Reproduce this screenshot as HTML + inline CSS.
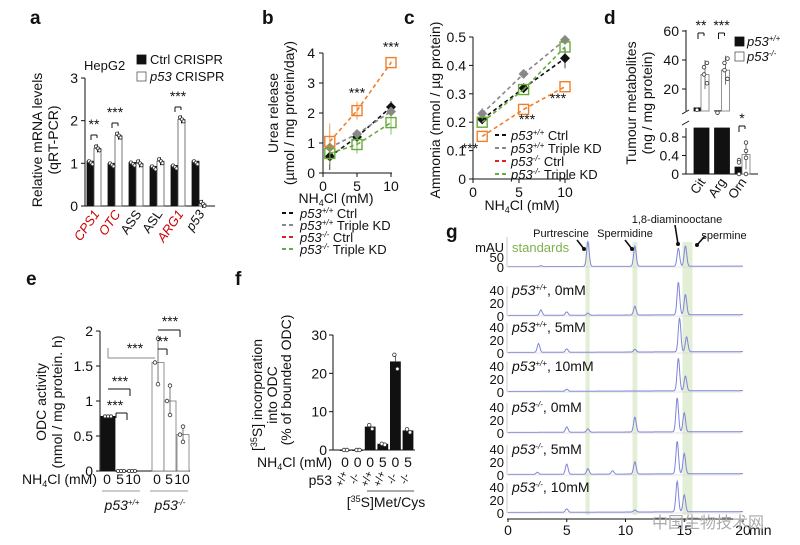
<!DOCTYPE html>
<html><head><meta charset="utf-8">
<style>
html,body{margin:0;padding:0;background:#fff;}
svg{display:block;font-family:"Liberation Sans","Noto Sans CJK SC",sans-serif;}
</style></head>
<body>
<svg id="fig" width="800" height="545" viewBox="0 0 800 545" xmlns="http://www.w3.org/2000/svg"></svg>
<script>
// ---------- data ----------
const aGenes=["CPS1","OTC","ASS","ASL","ARG1","p53"];
const aCtrl=[1.05,1.0,1.02,0.93,0.95,1.05];
const aKO=[1.35,1.65,1.0,1.05,2.03,0.05];
const aTicks=[0,1,2,3];
const bX=[1,5,10];
const bCtrlWT=[0.55,1.2,2.2];
const bKDWT=[0.85,1.3,2.05];
const bCtrlKO=[1.05,2.08,3.68];
const bKDKO=[0.65,0.95,1.68];
const bErr=[0.45,0.25,0.2];
const bTicks=[0,1,2,3,4];
const cX=[1,5.5,10];
const cCtrlWT=[0.21,0.32,0.425];
const cKDWT=[0.23,0.37,0.49];
const cCtrlKO=[0.15,0.245,0.325];
const cKDKO=[0.2,0.315,0.465];
const cTicks=[0,0.1,0.2,0.3,0.4,0.5];
const dCats=["Cit","Arg","Orn"];
const dWT=[7,5,0.15];
const dKO=[30,33,0.42];
const eWT=[0.78,0,0];
const eKO=[1.55,1.0,0.52];
const eTicks=[0,0.5,1,1.5,2];
const eTickLabels=["0","0.5","1","1.5","2"];
const fVals=[0,0,6,1.5,23,5];
const fNH4=["0","0","0","5","0","5"];
const fP53=["+/+","-/-","+/+","+/+","-/-","-/-"];
const fTicks=[0,10,20,30];
const gRows=["standards","p53+/+, 0mM","p53+/+, 5mM","p53+/+, 10mM","p53-/-, 0mM","p53-/-, 5mM","p53-/-, 10mM"];
const gPeakT=[[2.8,6.8,10.8,14.5,15.1],[2.8,5,6.8,10.8,14.5,15.1],[2.6,5,10.8,14.6,15.2],[5,14.5,15.1],[5,6.8,10.8,14.4,15],[2.5,5,6.8,8.9,10.8,14.4,15],[5,10.8,14.4,15]];
const gPeakH=[[2,55,45,40,45],[8,5,3,13,48,30],[13,5,4,50,22],[3,48,22],[8,5,22,50,28],[3,15,8,5,18,48,30],[5,3,45,25]];
const gXTicks=[0,5,10,15,20];

// ---------- helpers ----------
const svg=document.getElementById('fig');
const NS="http://www.w3.org/2000/svg";
function mk(tag,attrs,name){
  const el=document.createElementNS(NS,tag);
  for(const k in attrs) el.setAttribute(k,attrs[k]);
  
  
  svg.appendChild(el);return el;
}
function L(x1,y1,x2,y2,name,s,w,d){return mk('line',{x1,y1,x2,y2,stroke:s||'#111','stroke-width':w||1,'stroke-dasharray':d||'none'},name);}
function R(x,y,w,h,name,fill,s){return mk('rect',{x,y,width:w,height:h,fill:fill||'#111',stroke:s||'#111','stroke-width':0.8},name);}
function C(cx,cy,r,name,s){return mk('circle',{cx,cy,r,fill:'#fff',stroke:s||'#333','stroke-width':0.8},name);}
function T(x,y,html,name,o){o=o||{};const el=mk('text',{x,y,'font-size':o.fs||13,'text-anchor':o.a||'start',fill:o.fill||'#111','font-weight':o.fw||'normal','font-style':o.fst||'normal',transform:o.tr||''},name);el.innerHTML=html;return el;}
const sup=s=>`<tspan dy="-5" font-size="8">${s}</tspan><tspan dy="5"> </tspan>`;
const p53s=s=>`<tspan font-style="italic">p53${sup(s)}</tspan>`;

// ---------- panel letters ----------
[["a",30,24],["b",262,24],["c",404,24],["d",604,24],["e",26,285],["f",235,285],["g",446,238]].forEach(p=>T(p[1],p[2],p[0],'panel-label-'+p[0],{fs:19,fw:'bold'}));

// ---------- panel a ----------
const ya=v=>206-v*128/3;
L(85,78,85,206,'a-y-axis');L(85,206,215,206,'a-x-axis');
aTicks.forEach(t=>{L(81,ya(t),85,ya(t),'a-y-tick');T(78,ya(t)+5,t,'a-y-tick-label',{a:'end',fs:14});});
T(42,140,'Relative mRNA levels','a-y-title',{a:'middle',fs:14,tr:'rotate(-90 42 140)'});
T(58,140,'(qRT-PCR)','a-y-title-2',{a:'middle',fs:14,tr:'rotate(-90 58 140)'});
T(84,70,'HepG2','a-cell-line',{fs:13});
R(137,55,9,9,'a-legend-ctrl-swatch');T(150,64,'Ctrl CRISPR','a-legend-ctrl',{fs:13});
R(137,72,9,9,'a-legend-ko-swatch','#fff','#555');T(150,81,'<tspan font-style="italic">p53</tspan> CRISPR','a-legend-ko',{fs:13});
aGenes.forEach((g,i)=>{
  const cx=94+21*i;
  R(cx-7,ya(aCtrl[i]),7,206-ya(aCtrl[i]),'a-bar-ctrl-'+g);
  R(cx,ya(aKO[i]),7,206-ya(aKO[i]),'a-bar-ko-'+g,'#fff','#555');
  L(cx+3.5,ya(aKO[i])-4,cx+3.5,ya(aKO[i])+4,'a-err');
  [-5,-3,-1.5].forEach((d,k)=>C(cx+d,ya(aCtrl[i])+k*1.5,1.6,'a-dot'));
  [2,4,5.5].forEach((d,k)=>C(cx+d,ya(aKO[i])-2+k*2,1.6,'a-dot'));
  const red=(g==="CPS1"||g==="OTC"||g==="ARG1");
  T(cx+6,214,g,'a-x-label-'+g,{a:'end',fs:13,fill:red?'#c00':'#111',fst:(red||g==='p53')?'italic':'normal',tr:`rotate(-55 ${cx+6} 214)`});
});
[[0,'**',129],[1,'***',117],[4,'***',101]].forEach(s=>{const cx=94+21*s[0];
  L(cx-3,s[2]+6,cx+3,s[2]+6,'a-sig-bracket');L(cx-3,s[2]+6,cx-3,s[2]+11,'a-sig-bracket');L(cx+3,s[2]+6,cx+3,s[2]+9,'a-sig-bracket');
  T(cx,s[2],s[1],'a-sig-star',{a:'middle',fs:14});});

// ---------- panel b ----------
const xb=v=>323+v*6.8, yb=v=>173-v*30;
L(323,53,323,173,'b-y-axis');L(323,173,392,173,'b-x-axis');
bTicks.forEach(t=>{L(319,yb(t),323,yb(t),'b-y-tick');T(315,yb(t)+5,t,'b-y-tick-label',{a:'end',fs:14});});
[0,5,10].forEach(t=>{L(xb(t),173,xb(t),177,'b-x-tick');T(xb(t),191,t,'b-x-tick-label',{a:'middle',fs:14});});
T(336,203,'NH<tspan dy="3" font-size="9">4</tspan><tspan dy="-3">Cl (mM)</tspan>','b-x-title',{a:'middle',fs:14});
T(278,113,'Urea release','b-y-title',{a:'middle',fs:14,tr:'rotate(-90 278 113)'});
T(294,113,'(µmol / mg protein/day)','b-y-title-2',{a:'middle',fs:14,tr:'rotate(-90 294 113)'});
function series(xs,ys,xf,yf,col,mark,name,err){
  for(let i=0;i<xs.length-1;i++) L(xf(xs[i]),yf(ys[i]),xf(xs[i+1]),yf(ys[i+1]),name+'-line',col,1.6,'4,3');
  xs.forEach((x,i)=>{const X=xf(x),Y=yf(ys[i]);
    if(err){L(X,Y-err[i]*(yf(0)-yf(1)),X,Y+err[i]*(yf(0)-yf(1)),name+'-err',col,0.8);}
    if(mark==='d') mk('polygon',{points:`${X},${Y-5} ${X+5},${Y} ${X},${Y+5} ${X-5},${Y}`,fill:col},name+'-marker');
    else mk('rect',{x:X-5,y:Y-5,width:10,height:10,fill:'none',stroke:col,'stroke-width':1.4},name+'-marker');});
}
series(bX,bCtrlWT,xb,yb,'#111','d','b-ctrl-wt',bErr);
series(bX,bKDWT,xb,yb,'#888','d','b-kd-wt',[0.1,0.1,0.1]);
series(bX,bCtrlKO,xb,yb,'#f07f2a','s','b-ctrl-ko',[0.6,0.3,0.05]);
series(bX,bKDKO,xb,yb,'#6aaa3c','s','b-kd-ko',[0.35,0.3,0.4]);
T(xb(5),yb(2.08)-13,'***','b-sig-5',{a:'middle',fs:14});T(xb(10),yb(3.68)-11,'***','b-sig-10',{a:'middle',fs:14});
const legB=[['#111','+/+','Ctrl'],['#888','+/+','Triple KD'],['#d22','-/-','Ctrl'],['#6aaa3c','-/-','Triple KD']];
legB.forEach((l,i)=>{const y=213+i*12;L(282,y,296,y,'b-legend-line',l[0],2,'4,3');T(300,y+5,p53s(l[1])+l[2],'b-legend-entry',{fs:13});});

// ---------- panel c ----------
const xc=v=>473+v*9.2, yc=v=>179-v*284;
L(473,37,473,179,'c-y-axis');L(473,179,570,179,'c-x-axis');
cTicks.forEach(t=>{L(469,yc(t),473,yc(t),'c-y-tick');T(466,yc(t)+5,t,'c-y-tick-label',{a:'end',fs:14});});
[0,5,10].forEach(t=>{L(xc(t),179,xc(t),183,'c-x-tick');T(xc(t),197,t,'c-x-tick-label',{a:'middle',fs:14});});
T(522,210,'NH<tspan dy="3" font-size="9">4</tspan><tspan dy="-3">Cl (mM)</tspan>','c-x-title',{a:'middle',fs:14});
T(440,110,'Ammonia (nmol / µg protein)','c-y-title',{a:'middle',fs:14,tr:'rotate(-90 440 110)'});
series(cX,cCtrlWT,xc,yc,'#111','d','c-ctrl-wt',[0.01,0.01,0.035]);
series(cX,cKDWT,xc,yc,'#888','d','c-kd-wt',[0.02,0.01,0.01]);
series(cX,cCtrlKO,xc,yc,'#f07f2a','s','c-ctrl-ko',null);
series(cX,cKDKO,xc,yc,'#6aaa3c','s','c-kd-ko',null);
T(470,153,'***','c-sig-1',{a:'middle',fs:14});T(527,124,'***','c-sig-5',{a:'middle',fs:14});T(558,103,'***','c-sig-10',{a:'middle',fs:14});
const legC=[['#111','+/+','Ctrl'],['#888','+/+','Triple KD'],['#d22','-/-','Ctrl'],['#6aaa3c','-/-','Triple KD']];
legC.forEach((l,i)=>{const y=135+i*13;L(495,y,508,y,'c-legend-line',l[0],2,'4,3');T(511,y+5,p53s(l[1])+l[2],'c-legend-entry',{fs:13});});

// ---------- panel d ----------
const ydU=v=>89-(v-20)*1.45, ydL=v=>174-v*46.25;
const yd=v=>v>=1?Math.max(ydU(Math.max(v,4.8)),30):ydL(v);
L(686,30,686,111,'d-y-axis-upper');L(686,128,686,174,'d-y-axis-lower');L(686,174,758,174,'d-x-axis');
L(682,114,689,110,'d-break');L(682,125,689,121,'d-break');
[20,40,60].forEach(t=>{L(682,ydU(t),686,ydU(t),'d-y-tick');T(679,ydU(t)+5,t,'d-y-tick-label',{a:'end',fs:14});});
[0,0.4,0.8].forEach(t=>{L(682,ydL(t),686,ydL(t),'d-y-tick');T(679,ydL(t)+5,t,'d-y-tick-label',{a:'end',fs:14});});
T(636,103,'Tumour metabolites','d-y-title',{a:'middle',fs:14,tr:'rotate(-90 636 103)'});
T(652,103,'(ng / mg protein)','d-y-title-2',{a:'middle',fs:14,tr:'rotate(-90 652 103)'});
dCats.forEach((c,i)=>{const x0=694+i*20.5;
  if(dWT[i]>=1){R(x0,128,7,46,'d-bar-wt-lower-'+c);R(x0,yd(dWT[i]),7,111-yd(dWT[i]),'d-bar-wt-upper-'+c);
    R(x0+7,128,8,46,'d-bar-ko-lower-'+c,'#111');R(x0+7,yd(dKO[i]),8,111-yd(dKO[i]),'d-bar-ko-upper-'+c,'#fff','#777');
    L(x0+11,yd(dKO[i]-10),x0+11,yd(dKO[i]+10),'d-err','#555',0.8);
    [0,-6,5,8].forEach((d,k)=>C(x0+10+k%2*3,yd(dKO[i]+d),1.8,'d-dot'));C(x0+3,yd(dWT[i])+2,1.8,'d-dot');}
  else{R(x0,ydL(dWT[i]),7,174-ydL(dWT[i]),'d-bar-wt-'+c);R(x0+7,ydL(dKO[i]),8,174-ydL(dKO[i]),'d-bar-ko-'+c,'#fff','#777');
    L(x0+11,ydL(0.7),x0+11,ydL(0.1),'d-err','#555',0.8);[0.68,0.5,0.35,0].forEach(v=>C(x0+11,ydL(v),1.8,'d-dot'));[0.3,0.25,0].forEach(v=>C(x0+4,ydL(v),1.8,'d-dot'));}
  T(x0+12,182,c,'d-x-label-'+c,{a:'end',fs:13,tr:`rotate(-55 ${x0+12} 182)`});});
[[0,'**',30],[1,'***',30],[2,'*',123]].forEach(s=>{const x=694+s[0]*20.5+7;L(x-3,s[2]+3,x+3,s[2]+3,'d-sig-bracket');L(x-3,s[2]+3,x-3,s[2]+9,'d-sig-bracket');L(x+3,s[2]+3,x+3,s[2]+6,'d-sig-bracket');T(x,s[2],s[1],'d-sig-star',{a:'middle',fs:14});});
R(735,37,9,9,'d-legend-wt-swatch');T(747,46,p53s('+/+'),'d-legend-wt',{fs:13});
R(735,52,9,9,'d-legend-ko-swatch','#fff','#555');T(747,61,p53s('-/-'),'d-legend-ko',{fs:13});

// ---------- panel e ----------
const ye=v=>471-v*70;
L(100,331,100,471,'e-y-axis');L(100,471,190,471,'e-x-axis');
eTicks.forEach((t,i)=>{L(96,ye(t),100,ye(t),'e-y-tick');T(93,ye(t)+5,eTickLabels[i],'e-y-tick-label',{a:'end',fs:14});});
T(46,402,'ODC activity','e-y-title',{a:'middle',fs:14,tr:'rotate(-90 46 402)'});
T(62,402,'(nmol / mg protein. h)','e-y-title-2',{a:'middle',fs:14,tr:'rotate(-90 62 402)'});
const eWx=[101,116,127], eKx=[152,164,177];
eWT.forEach((v,i)=>{R(eWx[i],ye(v),i?10:14,Math.max(471-ye(v),0.5),'e-bar-wt-'+i);[2,5,8].forEach(d=>C(eWx[i]+d+(i?0:2),ye(v),1.6,'e-dot'));});
eKO.forEach((v,i)=>{R(eKx[i],ye(v),12,471-ye(v),'e-bar-ko-'+i,'#fff','#777');L(eKx[i]+6,ye(v*1.25),eKx[i]+6,ye(v*0.78),'e-err','#555',0.8);C(eKx[i]+6,ye(v*1.22),1.8,'e-dot');C(eKx[i]+6,ye(v*0.8),1.8,'e-dot');C(eKx[i]+3,ye(v),1.8,'e-dot');});
T(97,484,'NH<tspan dy="3" font-size="9">4</tspan><tspan dy="-3">Cl (mM)</tspan>','e-x-title',{a:'end',fs:14});
["0","5","10"].forEach((t,i)=>{T([107,120,133][i],484,t,'e-x-label',{a:'middle',fs:14});T([157,169,182][i],484,t,'e-x-label',{a:'middle',fs:14});});
L(102,491,140,491,'e-group-line','#999');L(150,491,188,491,'e-group-line','#999');
T(122,510,p53s('+/+'),'e-group-wt',{a:'middle',fs:14});T(170,510,p53s('-/-'),'e-group-ko',{a:'middle',fs:14});
L(108,358,108,348,'e-sig-line','#888');L(108,358,155,358,'e-sig-line','#888');T(135,353,'***','e-sig',{a:'middle',fs:14});
L(116,413,127,413,'e-sig-bracket');L(116,413,116,418,'e-sig-bracket');L(127,413,127,420,'e-sig-bracket');T(115,410,'***','e-sig',{a:'middle',fs:14});
L(108,389,130,389,'e-sig-bracket');L(130,389,130,396,'e-sig-bracket');T(120,386,'***','e-sig',{a:'middle',fs:14});
L(158,349,167,349,'e-sig-bracket');L(167,349,167,355,'e-sig-bracket');T(163,346,'**','e-sig',{a:'middle',fs:14});
L(158,330,180,330,'e-sig-bracket');L(180,330,180,337,'e-sig-bracket');T(170,326,'***','e-sig',{a:'middle',fs:14});

// ---------- panel f ----------
const yf=v=>450-v*115/30;
L(333,335,333,450,'f-y-axis');L(333,450,415,450,'f-x-axis');
fTicks.forEach(t=>{L(329,yf(t),333,yf(t),'f-y-tick');T(327,yf(t)+5,t,'f-y-tick-label',{a:'end',fs:14});});
T(262,395,'[<tspan dy="-5" font-size="9">35</tspan><tspan dy="5">S]  incorporation</tspan>','f-y-title',{a:'middle',fs:14,tr:'rotate(-90 262 395)'});
T(277,395,'into ODC','f-y-title-2',{a:'middle',fs:14,tr:'rotate(-90 277 395)'});
T(291,380,'(% of bounded ODC)','f-y-title-3',{a:'middle',fs:14,tr:'rotate(-90 291 380)'});
fVals.forEach((v,i)=>{const cx=345+i*12.6;
  R(cx-5,yf(v),10,Math.max(450-yf(v),0.5),'f-bar-'+i);
  if(v>2)L(cx,yf(v*1.1),cx,yf(v),'f-err','#444',0.8);
  C(cx-1,yf(v*1.08),1.8,'f-dot');C(cx+2,yf(v*0.92),1.8,'f-dot');
  T(cx,467,fNH4[i],'f-nh4-label',{a:'middle',fs:14});
  T(cx,480,fP53[i],'f-p53-label',{a:'middle',fs:11,tr:`rotate(-70 ${cx} 480)`});});
T(332,467,'NH<tspan dy="3" font-size="9">4</tspan><tspan dy="-3">Cl (mM)</tspan>','f-nh4-title',{a:'end',fs:14});
T(332,485,'p53','f-p53-title',{a:'end',fs:14});
L(367,491,414,491,'f-group-line','#555');
T(386,507,'[<tspan dy="-5" font-size="9">35</tspan><tspan dy="5">S]Met/Cys</tspan>','f-group-label',{a:'middle',fs:14});

// ---------- panel g ----------
const xg=t=>508+t*11.75;
const gBase=[267,316,353,392,433,475,513];
const gScale=[0.45,0.68,0.68,0.68,0.68,0.68,0.68];
[[6.6,6.95],[10.6,11.0],[14.85,15.7]].forEach(b=>mk('rect',{x:xg(b[0]),y:242,width:xg(b[1])-xg(b[0]),height:273,fill:'#e3eed6'},'g-highlight-band'));
gRows.forEach((r,i)=>{
  const b=gBase[i];let d='';
  for(let t=0;t<=20.001;t+=0.04){let v=0.8+t*0.06;gPeakT[i].forEach((pt,k)=>{v+=gPeakH[i][k]*Math.exp(-((t-pt)**2)/(2*0.11*0.11));});
    d+=(t?'L':'M')+xg(t).toFixed(1)+','+(b-v*gScale[i]).toFixed(1);}
  mk('path',{d,fill:'none',stroke:'#7f86d8','stroke-width':1},'g-trace-'+i);
  L(507,b,742,b,'g-baseline','#ccc',0.6);
  L(507,b-30,507,b,'g-row-axis','#bbb',0.8);
  if(i===0){T(504,b+5,'0','g-y-tick',{a:'end',fs:13});T(504,b-5,'50','g-y-tick',{a:'end',fs:13});T(504,b-15,'mAU','g-y-unit',{a:'end',fs:13});
    T(512,b-15,'standards','g-row-label-standards',{fs:13,fill:'#7fb04f'});}
  else{['0','20','40'].forEach((l,k)=>T(504,b+5-k*13,l,'g-y-tick',{a:'end',fs:13}));
    const parts=r.split(', ');const sp=parts[0].slice(3);
    T(512,b-21,`<tspan font-style="italic">p53<tspan dy="-5" font-size="8">${sp}</tspan></tspan><tspan dy="5">, ${parts[1]}</tspan>`,'g-row-label-'+i,{fs:14});}
});
L(507,519,742,519,'g-x-axis');
gXTicks.forEach(t=>{L(xg(t),519,xg(t),522,'g-x-tick');T(xg(t),535,t,'g-x-tick-label',{a:'middle',fs:14});});
T(749,535,'min','g-x-unit',{fs:14});
T(561,237,'Purtrescine','g-peak-label-putrescine',{a:'middle',fs:11});
T(625,237,'Spermidine','g-peak-label-spermidine',{a:'middle',fs:11});
T(677,223,'1,8-diaminooctane','g-peak-label-diaminooctane',{a:'middle',fs:11});
T(724,239,'spermine','g-peak-label-spermine',{a:'middle',fs:11});
[[577,240,584,249],[625,240,632,249],[675,225,678,244],[705,236,697,245]].forEach(a=>{L(a[0],a[1],a[2],a[3],'g-arrow','#111',1.6);
  mk('circle',{cx:a[2],cy:a[3],r:2,fill:'#111'},'g-arrow-head');});
T(708,528,'中国生物技术网','watermark',{a:'middle',fs:16,fill:'#aaa'});
</script>
</body></html>
